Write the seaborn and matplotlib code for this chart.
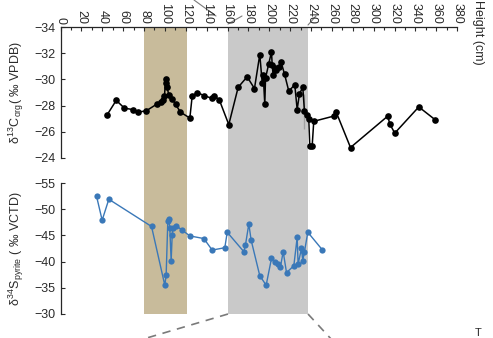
import matplotlib
matplotlib.use("Agg")
import matplotlib.pyplot as plt
import seaborn as sns
import pandas as pd
from matplotlib.lines import Line2D
from matplotlib.ticker import MultipleLocator

# height (cm) and delta13C org (per mil VPDB)
c_height = [44.7, 53.4, 61.3, 69.3, 74.0, 82.1, 92.0, 95.8, 98.0, 99.6, 100.6, 101.5,
            102.2, 103.7, 107.0, 110.2, 114.9, 123.9, 126.1, 130.9, 137.9, 145.3, 147.5,
            152.3, 161.2, 170.2, 178.8, 185.8, 190.9, 193.2, 194.2, 195.7, 196.4, 199.5,
            202.1, 202.8, 203.7, 205.0, 206.9, 209.1, 211.4, 214.6, 218.7, 224.4, 226.7,
            228.9, 232.1, 233.7, 233.7, 236.3, 237.8, 238.8, 241.1, 242.6, 261.8, 264.1,
            277.8, 313.5, 315.4, 320.2, 343.2, 359.2]
c_value = [-27.3, -28.4, -27.8, -27.7, -27.5, -27.6, -28.1, -28.25, -28.4, -28.7, -30.0, -29.7,
           -29.4, -28.8, -28.5, -28.1, -27.5, -27.05, -28.7, -29.0, -28.75, -28.55, -28.75,
           -28.4, -26.55, -29.4, -30.2, -29.3, -31.9, -29.75, -30.3, -28.1, -30.1, -31.2,
           -32.1, -31.1, -30.3, -30.85, -30.7, -30.95, -31.3, -30.4, -29.1, -29.6, -27.7,
           -28.9, -29.4, -28.9, -26.2, -27.3, -27.0, -24.9, -24.95, -26.8, -27.2, -27.5,
           -24.8, -27.2, -26.6, -25.9, -27.9, -26.9]

# height (cm) and delta34S pyrite (per mil VCDT)
s_height = [34.5, 39.9, 46.3, 87.2, 99.9, 101.2, 102.8, 103.7, 104.7, 106.0, 107.0, 107.9,
            111.1, 116.6, 123.9, 137.3, 145.3, 157.4, 159.7, 175.6, 177.2, 180.4, 182.6,
            190.9, 197.0, 202.1, 205.0, 208.2, 210.7, 213.3, 216.5, 223.5, 226.7, 227.6,
            230.8, 232.1, 233.7, 236.9, 250.6]
s_value = [-52.5, -47.9, -51.9, -46.7, -35.5, -37.4, -47.8, -48.1, -46.4, -40.1, -45.1, -46.4,
           -46.8, -46.0, -44.9, -44.4, -42.2, -42.65, -45.6, -41.9, -43.2, -47.2, -44.1,
           -37.3, -35.5, -40.6, -40.0, -39.5, -39.0, -41.9, -37.9, -39.2, -44.6, -39.5,
           -42.5, -40.2, -41.9, -45.6, -42.3]

tan_zone = (80, 121)
gray_zone = (160, 237.5)

W, H = 493, 338
sns.set_style("ticks")
plt.rcParams["font.family"] = ["Liberation Sans", "DejaVu Sans"]
plt.rcParams["mathtext.fontset"] = "custom"
plt.rcParams["mathtext.rm"] = "Liberation Sans"
plt.rcParams["mathtext.it"] = "Liberation Sans"

fig = plt.figure(figsize=(W / 100, H / 100), dpi=100)

def fx(px):
    return px / W

def fy(py):
    return 1 - py / H

x0, x1 = 60.5, 457.2
xmax = 380
txt = "#2a2a2a"

# background axes carrying the shaded zones through both panels
bg = fig.add_axes([fx(x0), fy(314), fx(x1) - fx(x0), fy(27) - fy(314)], zorder=0)
bg.set_xlim(0, xmax)
bg.set_ylim(0, 1)
bg.axvspan(*tan_zone, color="#c8bb9b", lw=0)
bg.axvspan(*gray_zone, color="#c9c9c9", lw=0)
bg.axis("off")

ax1 = fig.add_axes([fx(x0), fy(158), fx(x1) - fx(x0), fy(27) - fy(158)], zorder=2)
ax2 = fig.add_axes([fx(x0), fy(314), fx(x1) - fx(x0), fy(183) - fy(314)], zorder=2)
for a in (ax1, ax2):
    a.patch.set_alpha(0)

top = pd.DataFrame({"height": c_height, "d13C": c_value})
bot = pd.DataFrame({"height": s_height, "d34S": s_value})

sns.lineplot(data=top, x="height", y="d13C", sort=False, ax=ax1, color="black",
             lw=1.1, marker="o", markersize=4.8, markeredgewidth=0, clip_on=False)
sns.lineplot(data=bot, x="height", y="d34S", sort=False, ax=ax2, color="#3a78b8",
             lw=1.0, marker="o", markersize=4.5, markeredgewidth=0, clip_on=False)

# top panel
ax1.set_xlim(0, xmax)
ax1.set_ylim(-24, -34)
ax1.set_yticks([-34, -32, -30, -28, -26, -24])
ax1.xaxis.tick_top()
ax1.set_xticks(range(0, 381, 20))
ax1.set_xticklabels([str(v) for v in range(0, 381, 20)], rotation=270)
ax1.xaxis.set_minor_locator(MultipleLocator(10))
ax1.spines["right"].set_visible(False)
ax1.spines["bottom"].set_visible(False)
ax1.set_xlabel("")
ax1.set_ylabel(r"$\delta^{13}$C$_{org}$( ‰ VPDB)", fontsize=9, labelpad=6, color=txt)

# bottom panel
ax2.set_xlim(0, xmax)
ax2.set_ylim(-30, -55)
ax2.set_yticks([-55, -50, -45, -40, -35, -30])
ax2.set_xticks([])
for s in ("top", "right", "bottom"):
    ax2.spines[s].set_visible(False)
ax2.set_xlabel("")
ax2.set_ylabel(r"$\delta^{34}$S$_{pyrite}$ ( ‰ VCTD)", fontsize=9, labelpad=6, color=txt)

for a in (ax1, ax2):
    a.tick_params(axis="both", which="both", direction="in", labelsize=9,
                  colors=txt, width=0.8)
    a.tick_params(axis="both", which="major", length=3)
    a.tick_params(axis="both", which="minor", length=2)
    a.spines["left"].set_linewidth(0.9)
    a.spines["top"].set_linewidth(0.9)
ax1.tick_params(axis="x", pad=2)

fig.text(fx(478), fy(0), "Height (cm)", rotation=270, ha="center", va="top",
         fontsize=9, color=txt)

# zoom connector lines
gl = dict(color="#7a7a7a", lw=1.2)
fig.add_artist(Line2D([fx(228), fx(140)], [fy(314), fy(340)], ls=(0, (5, 4)), **gl))
fig.add_artist(Line2D([fx(308), fx(332)], [fy(314), fy(340)], ls=(0, (5, 4)), **gl))
fig.add_artist(Line2D([fx(194), fx(216)], [fy(0), fy(16)], lw=0.8, color="#7a7a7a"))
fig.add_artist(Line2D([fx(228), fx(242)], [fy(24), fy(16)], lw=0.8, color="#7a7a7a"))
fig.add_artist(Line2D([fx(308), fx(316)], [fy(25), fy(16)], lw=0.8, color="#7a7a7a"))
fig.text(fx(478), fy(338), "T", fontsize=8, ha="center", va="bottom", color=txt)

fig.savefig("out.png", dpi=100)
